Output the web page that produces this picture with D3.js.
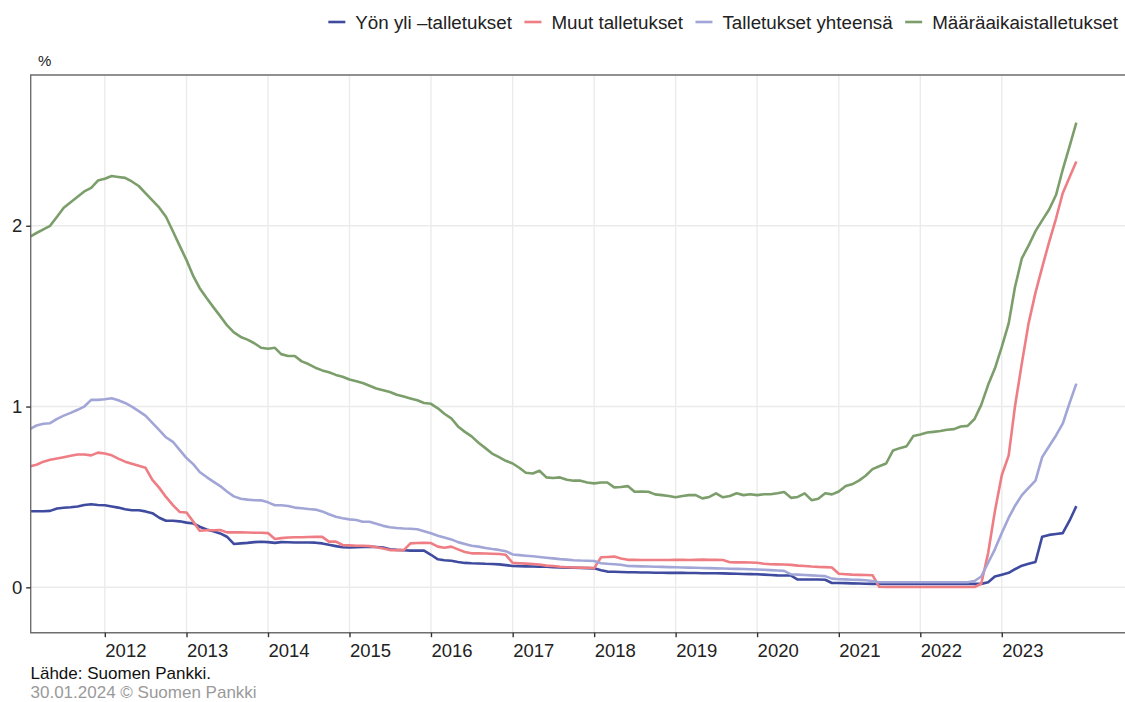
<!DOCTYPE html>
<html><head><meta charset="utf-8">
<script src="https://cdn.jsdelivr.net/npm/d3@7"></script>
<style>body{margin:0;background:#fff} svg{display:block} text{font-family:"Liberation Sans",Arial,Helvetica,sans-serif}</style>
</head><body><svg id="c" width="1125" height="702"></svg>
<script>
// monthly data, first month Feb 2011, last Dec 2023
const startYear = 2011, startMonthIndex = 1; // 0 = Jan
const seriesNames = ["Yön yli \u2013talletukset", "Muut talletukset", "Talletukset yhteensä", "Määräaikaistalletukset"];
const seriesColors = ["#3f4b9f", "#ee7d84", "#a2a6d7", "#7b9e6b"];

const yonYli = [0.421,0.421,0.421,0.423,0.436,0.44,0.443,0.447,0.455,0.46,0.455,0.454,
0.447,0.441,0.432,0.426,0.426,0.42,0.41,0.385,0.368,0.368,0.365,0.358,
0.353,0.335,0.32,0.31,0.298,0.28,0.24,0.243,0.246,0.25,0.252,0.25,
0.246,0.25,0.249,0.248,0.248,0.248,0.247,0.243,0.235,0.228,0.222,0.22,
0.222,0.224,0.225,0.223,0.22,0.21,0.207,0.205,0.203,0.203,0.203,0.18,
0.155,0.15,0.147,0.14,0.135,0.133,0.132,0.13,0.129,0.127,0.123,0.118,
0.117,0.116,0.115,0.114,0.114,0.112,0.11,0.109,0.108,0.107,0.106,0.105,
0.095,0.087,0.086,0.085,0.083,0.083,0.082,0.082,0.081,0.081,0.08,0.08,
0.08,0.079,0.079,0.078,0.078,0.078,0.077,0.076,0.075,0.074,0.073,0.072,
0.07,0.068,0.066,0.065,0.065,0.043,0.043,0.043,0.043,0.042,0.024,0.024,
0.023,0.022,0.021,0.02,0.019,0.019,0.019,0.019,0.019,0.019,0.019,0.019,
0.019,0.019,0.019,0.019,0.019,0.019,0.019,0.019,0.019,0.028,0.06,0.07,
0.08,0.1,0.12,0.13,0.14,0.28,0.29,0.295,0.30,0.37,0.449];

const muut = [0.67,0.678,0.695,0.706,0.713,0.72,0.728,0.735,0.735,0.73,0.745,0.74,
0.73,0.712,0.695,0.684,0.672,0.662,0.594,0.55,0.50,0.455,0.417,0.414,
0.362,0.313,0.316,0.316,0.317,0.304,0.304,0.304,0.303,0.302,0.302,0.30,
0.267,0.272,0.276,0.277,0.277,0.278,0.279,0.279,0.253,0.253,0.234,0.232,
0.23,0.23,0.228,0.222,0.215,0.206,0.206,0.206,0.243,0.245,0.246,0.245,
0.225,0.219,0.225,0.21,0.195,0.188,0.188,0.187,0.186,0.184,0.18,0.135,
0.133,0.131,0.129,0.126,0.12,0.118,0.114,0.111,0.11,0.109,0.108,0.106,
0.166,0.168,0.17,0.16,0.152,0.152,0.151,0.151,0.151,0.151,0.151,0.152,
0.152,0.151,0.152,0.153,0.152,0.152,0.151,0.139,0.138,0.138,0.137,0.136,
0.13,0.128,0.127,0.126,0.124,0.12,0.118,0.115,0.113,0.112,0.11,0.075,
0.072,0.07,0.069,0.068,0.067,0.003,0.002,0.002,0.002,0.002,0.002,0.002,
0.002,0.002,0.002,0.002,0.002,0.002,0.002,0.002,0.02,0.19,0.42,0.62,
0.73,1.0,1.24,1.46,1.63,1.77,1.91,2.04,2.18,2.27,2.355];

const yhteensa = [0.877,0.895,0.905,0.908,0.932,0.95,0.965,0.982,1.0,1.037,1.037,1.04,
1.046,1.035,1.02,1.0,0.975,0.95,0.91,0.87,0.83,0.805,0.76,0.715,
0.68,0.638,0.61,0.585,0.56,0.53,0.503,0.49,0.485,0.482,0.481,0.47,
0.454,0.454,0.45,0.441,0.437,0.433,0.43,0.42,0.404,0.39,0.382,0.376,
0.372,0.363,0.363,0.352,0.34,0.332,0.328,0.325,0.324,0.321,0.31,0.299,
0.285,0.275,0.265,0.25,0.24,0.23,0.225,0.218,0.212,0.207,0.2,0.182,
0.178,0.175,0.172,0.168,0.164,0.16,0.156,0.153,0.15,0.148,0.147,0.146,
0.133,0.13,0.128,0.125,0.118,0.117,0.116,0.115,0.114,0.113,0.112,0.111,
0.11,0.109,0.108,0.107,0.106,0.105,0.104,0.103,0.102,0.101,0.1,0.099,
0.097,0.095,0.093,0.091,0.072,0.07,0.068,0.066,0.064,0.062,0.048,0.045,
0.044,0.042,0.041,0.039,0.035,0.028,0.028,0.028,0.028,0.028,0.028,0.028,
0.028,0.028,0.028,0.028,0.028,0.028,0.028,0.035,0.06,0.136,0.21,0.30,
0.385,0.45,0.51,0.55,0.59,0.72,0.78,0.84,0.905,1.02,1.127];

const maaraaikais = [1.94,1.96,1.98,2.00,2.05,2.10,2.13,2.16,2.19,2.21,2.25,2.26,
2.275,2.27,2.265,2.245,2.22,2.18,2.14,2.10,2.05,1.97,1.89,1.81,
1.72,1.655,1.60,1.55,1.50,1.45,1.41,1.385,1.37,1.35,1.325,1.32,
1.325,1.29,1.28,1.28,1.25,1.235,1.215,1.20,1.19,1.175,1.165,1.15,
1.14,1.13,1.115,1.10,1.09,1.08,1.065,1.055,1.045,1.035,1.02,1.015,
0.99,0.96,0.935,0.89,0.86,0.835,0.80,0.77,0.74,0.72,0.70,0.685,
0.66,0.634,0.63,0.645,0.608,0.605,0.608,0.595,0.59,0.59,0.58,0.575,
0.58,0.58,0.553,0.555,0.56,0.529,0.53,0.529,0.514,0.51,0.505,0.498,
0.505,0.51,0.51,0.492,0.50,0.52,0.498,0.505,0.52,0.51,0.515,0.51,
0.515,0.515,0.52,0.527,0.495,0.50,0.52,0.482,0.49,0.52,0.514,0.53,
0.56,0.57,0.59,0.617,0.654,0.67,0.685,0.757,0.77,0.781,0.837,0.845,
0.856,0.86,0.865,0.872,0.875,0.89,0.893,0.931,1.009,1.12,1.21,1.33,
1.46,1.66,1.82,1.89,1.97,2.03,2.09,2.17,2.31,2.44,2.57];

const yTicks = [0, 1, 2];
const xTicks = [2012,2013,2014,2015,2016,2017,2018,2019,2020,2021,2022,2023];
const yUnit = "%";
const sourceText = "Lähde: Suomen Pankki.";
const copyrightText = "30.01.2024 \u00a9 Suomen Pankki";

const allSeries = [yonYli, muut, yhteensa, maaraaikais];
const dates = yonYli.map((_, i) => new Date(startYear, startMonthIndex + i, 1));

const svg = d3.select("#c");
const P = {left: 30.7, right: 1125, top: 75, bottom: 632.7};
const FONT = '"Liberation Sans",Arial,sans-serif';

const x = d3.scaleTime()
  .domain([new Date(2011, 1, 3), new Date(2024, 6, 6)])
  .range([P.left, P.right]);
const y = d3.scaleLinear().domain([-0.251, 2.834]).range([P.bottom, P.top]);

// grid
const g = svg.append("g");
g.selectAll(".gy").data(yTicks).join("line")
  .attr("x1", P.left).attr("x2", P.right)
  .attr("y1", d => y(d)).attr("y2", d => y(d))
  .attr("stroke", "#ebebeb").attr("stroke-width", 1.4);
g.selectAll(".gx").data(xTicks).join("line")
  .attr("x1", d => x(new Date(d,0,1))).attr("x2", d => x(new Date(d,0,1)))
  .attr("y1", P.top).attr("y2", P.bottom)
  .attr("stroke", "#ebebeb").attr("stroke-width", 1.4);

// lines
const line = d3.line().x((d, i) => x(dates[i])).y(d => y(d));
svg.append("clipPath").attr("id","clp").append("rect")
  .attr("x", P.left).attr("y", P.top).attr("width", P.right-P.left).attr("height", P.bottom-P.top);
const lg = svg.append("g").attr("clip-path","url(#clp)");
allSeries.forEach((s, k) => {
  lg.append("path").datum(s).attr("d", line)
    .attr("fill", "none").attr("stroke", seriesColors[k])
    .attr("stroke-width", 2.6).attr("stroke-linejoin", "round").attr("stroke-linecap","butt");
});

// panel border
svg.append("path")
  .attr("d", `M${P.right},${P.top}H${P.left}V${P.bottom}H${P.right}`)
  .attr("fill", "none").attr("stroke", "#6e6e6e").attr("stroke-width", 1.4);

// axes
const xAxis = d3.axisBottom(x).tickValues(xTicks.map(d => new Date(d,0,1)))
  .tickFormat(d3.timeFormat("%Y")).tickSize(4.5).tickPadding(5);
const xa = svg.append("g").attr("transform", `translate(0,${P.bottom})`).call(xAxis);
xa.select(".domain").remove();
xa.selectAll(".tick line").attr("stroke", "#333").attr("stroke-width", 1.4);
xa.selectAll(".tick text").attr("text-anchor", "start").attr("dy", null).attr("y", 24)
  .attr("fill", "#222").style("font-size", "18.5px").style("font-family", FONT);

const yAxis = d3.axisLeft(y).tickValues(yTicks).tickFormat(d3.format("d")).tickSize(4.5).tickPadding(4);
const ya = svg.append("g").attr("transform", `translate(${P.left},0)`).call(yAxis);
ya.select(".domain").remove();
ya.selectAll(".tick line").attr("stroke", "#333").attr("stroke-width", 1.4);
ya.selectAll(".tick text").attr("fill", "#222").style("font-size", "18.5px").style("font-family", FONT);

svg.append("text").attr("x", 38).attr("y", 66).text(yUnit)
  .style("font-size", "15px").attr("fill", "#222");

// footer
svg.append("text").attr("x", 30.5).attr("y", 679).text(sourceText)
  .style("font-size", "17px").attr("fill", "#111");
svg.append("text").attr("x", 30.5).attr("y", 698).text(copyrightText)
  .style("font-size", "17px").attr("fill", "#9a9a9a");

// legend (right aligned)
const legend = svg.append("g");
const keyW = 17, keyGap = 10, itemGap = 12.5, legendRight = 1118, ly = 22;
let cursor = legendRight;
const items = seriesNames.map((n, k) => ({n, k})).reverse();
items.forEach(it => {
  const t = legend.append("text").attr("y", ly + 6.8).text(it.n)
    .style("font-size", "18.8px").attr("fill", "#222");
  const w = t.node().getComputedTextLength();
  t.attr("x", cursor - w);
  legend.append("line").attr("x1", cursor - w - keyGap - keyW).attr("x2", cursor - w - keyGap)
    .attr("y1", ly).attr("y2", ly).attr("stroke", seriesColors[it.k]).attr("stroke-width", 2.6);
  cursor = cursor - w - keyGap - keyW - itemGap;
});
</script></body></html>
